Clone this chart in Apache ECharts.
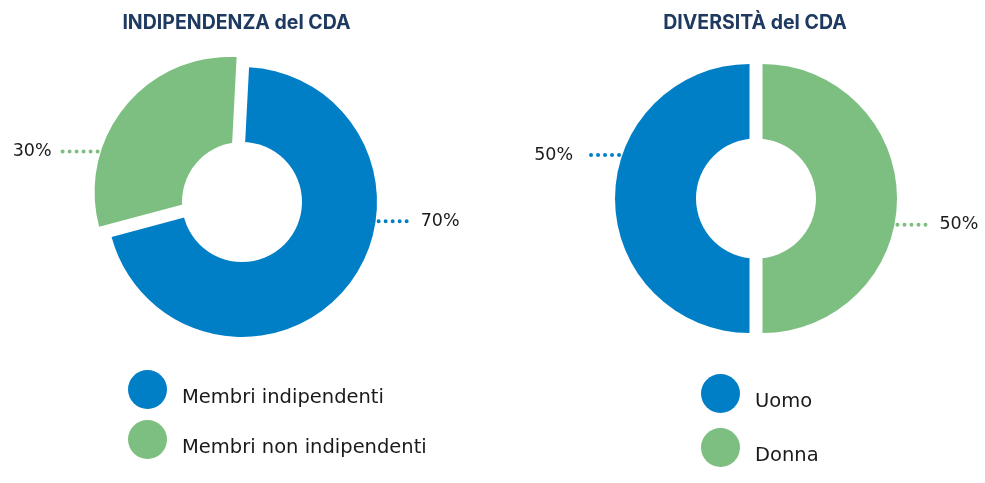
<!DOCTYPE html>
<html>
<head>
<meta charset="utf-8">
<title>CDA</title>
<script src="https://cdn.jsdelivr.net/npm/echarts/dist/echarts.min.js"></script>
<style>
  html, body { margin: 0; padding: 0; background: #fff; }
  #chart { width: 985px; height: 483px; }
</style>
</head>
<body>
<div id="chart"></div>
<script>
// indipendenza del CDA
const indipTitle = 'INDIPENDENZA del CDA';
const indipNames = ['Membri indipendenti', 'Membri non indipendenti'];
const indipValues = [70, 30];

// diversità del CDA
const diversTitle = 'DIVERSITÀ del CDA';
const diversNames = ['Uomo', 'Donna'];
const diversValues = [50, 50];

const colors = ['#007fc7', '#7dbf80'];
const fontFamily = '"DejaVu Sans", sans-serif';
const titleFont = 'Inter, sans-serif';
const textColor = '#1a1a1a';

// posizione delle due ciambelle
const leftPie = { cx: 242, cy: 202, r: 135, hole: 60, startAngle: 87, offset: 16, selected: [false, true], labelDeg: [-8, 163] };
const rightPie = { cx: 756, cy: 198.5, r: 134.5, hole: 60, startAngle: 270, offset: 6.5, selected: [true, true], labelDeg: [161.6, -11] };

// etichette con linea puntinata orizzontale (calcolate sulla fetta spostata)
function makeLabelLayout(cfg, values) {
  const total = values.reduce((a, b) => a + b, 0);
  return function (p) {
    const i = p.dataIndex;
    let before = 0;
    for (let k = 0; k < i; k++) before += values[k];
    const mid = (cfg.startAngle - (before + values[i] / 2) / total * 360) * Math.PI / 180;
    const off = cfg.selected[i] ? cfg.offset : 0;
    const ox = cfg.cx + Math.cos(mid) * off;
    const oy = cfg.cy - Math.sin(mid) * off;
    const a = cfg.labelDeg[i] * Math.PI / 180;
    const x0 = ox + (cfg.r + 3) * Math.cos(a);
    const y0 = oy - (cfg.r + 3) * Math.sin(a);
    const side = Math.cos(a) >= 0 ? 1 : -1;
    const x1 = x0 + side * 35;
    return {
      x: x1 + side * (side > 0 ? 7 : 11),
      y: y0,
      align: side > 0 ? 'left' : 'right',
      verticalAlign: 'middle',
      labelLinePoints: [[x0, y0], [x1, y0], [x1, y0]]
    };
  };
}

// le fette visibili, senza etichette
function donut(cfg, names, values, mode) {
  return {
    type: 'pie',
    center: [cfg.cx, cfg.cy],
    radius: [0, cfg.r],
    startAngle: cfg.startAngle,
    clockwise: true,
    selectedMode: mode,
    selectedOffset: cfg.offset,
    emphasis: { disabled: true },
    itemStyle: { borderWidth: 0 },
    label: { show: false },
    labelLine: { show: false },
    data: names.map((n, i) => ({
      name: n,
      value: values[i],
      selected: cfg.selected[i],
      itemStyle: { color: colors[i] }
    }))
  };
}

// stessa torta trasparente che porta solo le etichette
function labels(cfg, names, values) {
  return {
    type: 'pie',
    center: [cfg.cx, cfg.cy],
    radius: [0, cfg.r],
    startAngle: cfg.startAngle,
    clockwise: true,
    silent: true,
    avoidLabelOverlap: false,
    emphasis: { disabled: true },
    itemStyle: { color: 'rgba(0,0,0,0)', borderWidth: 0 },
    label: {
      show: true,
      position: 'outside',
      formatter: '{c}%',
      fontSize: 17.5,
      fontFamily: fontFamily,
      color: textColor
    },
    labelLine: {
      show: true,
      smooth: false,
      lineStyle: { width: 4, type: [0, 7], cap: 'round' }
    },
    labelLayout: makeLabelLayout(cfg, values),
    data: names.map((n, i) => ({
      name: n,
      value: values[i],
      labelLine: { lineStyle: { color: colors[i] } }
    }))
  };
}

// cerchio bianco al centro
function hole(cfg) {
  return {
    type: 'pie',
    center: [cfg.cx, cfg.cy],
    radius: [0, cfg.hole],
    z: 3,
    silent: true,
    label: { show: false },
    labelLine: { show: false },
    itemStyle: { color: '#fff', borderWidth: 0 },
    data: [{ value: 1, name: 'foro' }]
  };
}

const legendBase = {
  orient: 'vertical',
  icon: 'circle',
  itemWidth: 39,
  itemHeight: 39,
  selectedMode: false,
  formatter: name => '\n' + name,
  textStyle: { fontSize: 19.5, lineHeight: 17, fontFamily: fontFamily, color: textColor, padding: [0, 0, 0, 10] }
};

const titleStyle = { fontSize: 19.5, fontWeight: 'bold', fontFamily: titleFont, color: '#1f3a60' };

const chart = echarts.init(document.getElementById('chart'));
chart.setOption({
  animation: false,
  title: [
    { text: indipTitle, left: 231.5, top: 8, textAlign: 'center', textStyle: titleStyle },
    { text: diversTitle, left: 750, top: 8, textAlign: 'center', textStyle: titleStyle }
  ],
  legend: [
    Object.assign({}, legendBase, { data: indipNames, left: 123, top: 365, itemGap: 11 }),
    Object.assign({}, legendBase, { data: diversNames, left: 696, top: 369, itemGap: 15 })
  ],
  series: [
    donut(leftPie, indipNames, indipValues, 'single'),
    labels(leftPie, indipNames, indipValues),
    hole(leftPie),
    donut(rightPie, diversNames, diversValues, 'multiple'),
    labels(rightPie, diversNames, diversValues),
    hole(rightPie)
  ]
});
</script>
</body>
</html>
